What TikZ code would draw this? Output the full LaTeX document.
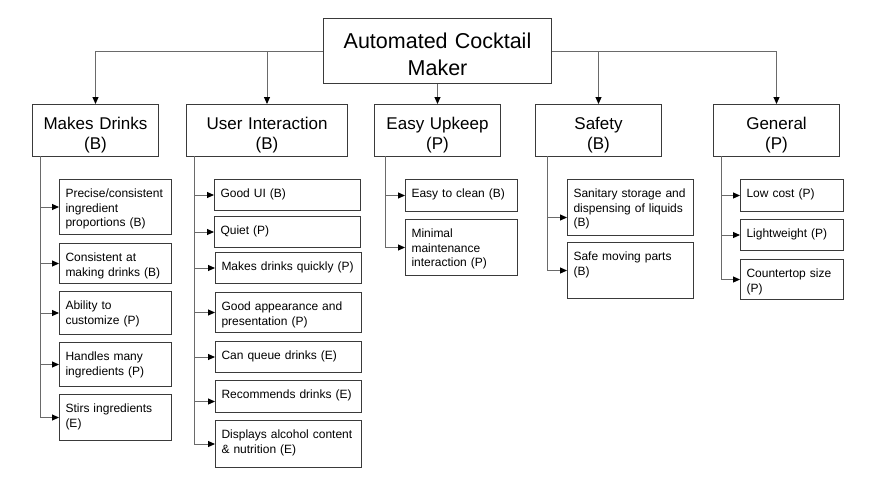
\documentclass[tikz,border=0pt]{standalone}
\usepackage{fontspec}
\setmainfont{Liberation Sans}
\usetikzlibrary{arrows.meta}

\definecolor{boxline}{HTML}{3A3A3A}
\definecolor{linkline}{HTML}{6A6A6A}

\begin{document}
\begin{tikzpicture}[x=1pt,y=-1pt,
    box/.style={draw=boxline, line width=1pt, anchor=north west},
    root/.style={box, align=center, text width=220pt, inner xsep=4pt, inner ysep=8pt,
        text height=21.7pt, text depth=27.3pt, font=\fontsize{21.5}{27}\selectfont},
    group/.style={box, align=center, text width=#1, inner xsep=4pt, inner ysep=8pt,
        text height=17.3pt, text depth=18.7pt, font=\fontsize{17}{20}\selectfont},
    leaf/.style={box, align=left, inner xsep=6pt, inner ysep=9pt,
        text height=9pt, text depth=#1, font=\fontsize{12}{14.5}\selectfont},
    mdcol/.style={text width=100pt},
    uicol/.style={text width=134pt},
    eucol/.style={text width=100pt},
    sfcol/.style={text width=114pt},
    gncol/.style={text width=91pt},
    link/.style={draw=linkline, line width=1pt, -{Triangle[length=7pt,width=6pt,color=black]}}
]

    \useasboundingbox (0,0) rectangle (874,491);

    % top
    \node [root] (root) at (323,18) {Automated Cocktail\\Maker};

    % groups
    \node [group=118pt] (md) at (32,104) {Makes Drinks\\(B)};
    \node [group=153pt] (ui) at (186,104) {User Interaction\\(B)};
    \node [group=118pt] (eu) at (374,104) {Easy Upkeep\\(P)};
    \node [group=118pt] (sf) at (535,104) {Safety\\(B)};
    \node [group=118pt] (gn) at (713,104) {General\\(P)};

    \draw [link] (root.west) -| (md);
    \draw [link] (root.west) -| (ui);
    \draw [link] (root.south -| eu.north) -- (eu.north);
    \draw [link] (root.east) -| (sf);
    \draw [link] (root.east) -| (gn);

    % makes drinks
    \node [leaf=28pt, mdcol] (precise) at (59,179) {Precise/consistent\\ingredient\\proportions (B)};
    \node [leaf=13pt, mdcol] (consistent) at (59,243) {Consistent at\\making drinks (B)};
    \node [leaf=16pt, mdcol] (custom) at (59,291) {Ability to\\customize (P)};
    \node [leaf=17pt, mdcol] (many) at (59,342) {Handles many\\ingredients (P)};
    \node [leaf=19pt, mdcol] (stirs) at (59,394) {Stirs ingredients\\(E)};

    % user interaction
    \node [leaf=4pt, uicol] (goodui) at (214,179) {Good UI (B)};
    \node [leaf=4pt, uicol] (quiet) at (214,216) {Quiet (P)};
    \node [leaf=4pt, uicol] (quickly) at (215,252) {Makes drinks quickly (P)};
    \node [leaf=13pt, uicol] (looks) at (215,292) {Good appearance and\\presentation (P)};
    \node [leaf=4pt, uicol] (queue) at (215,341) {Can queue drinks (E)};
    \node [leaf=5pt, uicol] (recommend) at (215,380) {Recommends drinks (E)};
    \node [leaf=20pt, uicol] (alcohol) at (215,420) {Displays alcohol content\\\& nutrition (E)};

    % easy upkeep
    \node [leaf=5pt, eucol] (clean) at (405,179) {Easy to clean (B)};
    \node [leaf=29pt, eucol] (minimal) at (405,219) {Minimal\\maintenance\\interaction (P)};

    % safety
    \node [leaf=29pt, sfcol] (sanitary) at (567,179) {Sanitary storage and\\dispensing of liquids\\(B)};
    \node [leaf=29pt, sfcol] (moving) at (567,242) {Safe moving parts\\(B)};

    % general
    \node [leaf=5pt, gncol] (cost) at (740,179) {Low cost (P)};
    \node [leaf=4pt, gncol] (weight) at (740,219) {Lightweight (P)};
    \node [leaf=13pt, gncol] (size) at (740,259) {Countertop size\\(P)};

    \coordinate (mdspine) at (40,156);
    \coordinate (uispine) at (194,156);
    \coordinate (euspine) at (385,156);
    \coordinate (sfspine) at (547,156);
    \coordinate (gnspine) at (721,156);

    \foreach \leafname in {precise,consistent,custom,many,stirs}
        \draw [link] (mdspine) |- (\leafname);
    \foreach \leafname in {goodui,quiet,quickly,looks,queue,alcohol}
        \draw [link] (uispine) |- (\leafname);
    \draw [link] (uispine) |- ([yshift=-5pt]recommend.west);
    \foreach \leafname in {clean,minimal}
        \draw [link] (euspine) |- (\leafname);
    \draw [link] (sfspine) |- ([yshift=-10pt]sanitary.west);
    \draw [link] (sfspine) |- (moving);
    \foreach \leafname in {cost,weight,size}
        \draw [link] (gnspine) |- (\leafname);

\end{tikzpicture}
\end{document}
